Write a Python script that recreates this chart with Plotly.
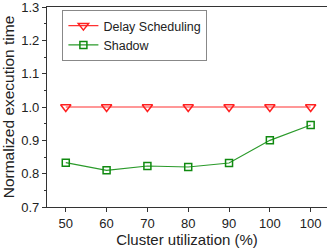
import plotly.graph_objects as go

tick_labels = ["50", "60", "70", "80", "90", "100", "100"]
delay_scheduling = [1.0, 1.0, 1.0, 1.0, 1.0, 1.0, 1.0]
shadow = [0.833, 0.810, 0.823, 0.820, 0.832, 0.900, 0.946]
y_ticks = [0.7, 0.8, 0.9, 1.0, 1.1, 1.2, 1.3]

x = list(range(len(tick_labels)))

fig = go.Figure()
fig.add_trace(go.Scatter(
    x=x, y=delay_scheduling, name="Delay Scheduling", mode="lines+markers",
    line=dict(color="#ff3030", width=1.2),
    marker=dict(symbol="triangle-down-open", size=9, color="#ff2020", line=dict(width=1.5)),
))
fig.add_trace(go.Scatter(
    x=x, y=shadow, name="Shadow", mode="lines+markers",
    line=dict(color="#2a9a2a", width=1.2),
    marker=dict(symbol="square-open", size=7, color="#108a10", line=dict(width=1.5)),
))

fig.update_layout(
    width=327, height=248,
    margin=dict(l=47, r=0, t=7, b=41),
    paper_bgcolor="white", plot_bgcolor="white",
    font=dict(family="Liberation Sans, Arial, sans-serif", color="#222", size=13),
    showlegend=True,
    legend=dict(
        x=0.055, y=0.985, xanchor="left", yanchor="top",
        bordercolor="#888", borderwidth=1, bgcolor="white",
        font=dict(size=12.5), itemwidth=30, tracegroupgap=0,
    ),
    xaxis=dict(
        range=[-0.46, 6.4], tickmode="array", tickvals=x, ticktext=tick_labels,
        showgrid=False, zeroline=False, showline=True, linecolor="#333", linewidth=1.2,
        mirror=True, ticks="outside", ticklen=4, tickcolor="#333", automargin=False,
        title=dict(text="Cluster utilization (%)", font=dict(size=15), standoff=4),
    ),
    yaxis=dict(
        range=[0.7, 1.3], tickmode="array", tickvals=y_ticks,
        ticktext=[f"{v:.1f}" for v in y_ticks], ticklabeloverflow="allow",
        showgrid=False, zeroline=False, showline=True, linecolor="#333", linewidth=1.2,
        ticks="outside", ticklen=4, tickcolor="#333", automargin=False,
        minor=dict(tickmode="array", tickvals=[0.75, 0.85, 0.95, 1.05, 1.15, 1.25],
                   ticks="outside", ticklen=2, tickcolor="#333"),
        title=dict(text="Normalized execution time", font=dict(size=15.5), standoff=2),
    ),
)

fig.write_html("out.html", config={"displayModeBar": False})

with open("out.html", encoding="utf-8") as f:
    html = f.read()
html = html.replace("<head>", "<head><style>html,body{margin:0;padding:0;overflow:hidden;}</style>", 1)
with open("out.html", "w", encoding="utf-8") as f:
    f.write(html)
